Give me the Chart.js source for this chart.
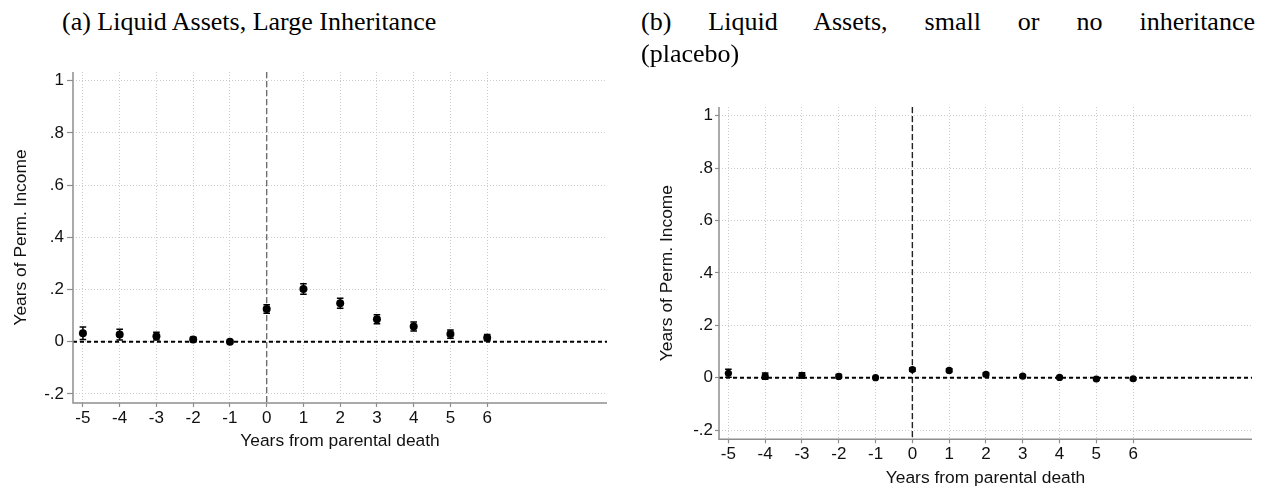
<!DOCTYPE html>
<html><head><meta charset="utf-8">
<script src="https://cdn.jsdelivr.net/npm/chart.js@4"></script>
<style>
html,body{margin:0;padding:0;background:#fff;width:1282px;height:491px;overflow:hidden;}
.t{position:absolute;font-family:"Liberation Serif","Times New Roman",serif;font-size:26px;color:#000;white-space:nowrap;line-height:32px;z-index:2;}
#ta{left:62px;top:6px;}
#tb1{left:641px;top:6px;width:614px;text-align:justify;text-align-last:justify;white-space:normal;}
#tb2{left:641px;top:38px;}
.c{position:absolute;z-index:1;}
</style></head>
<body>
<div class="t" id="ta">(a) Liquid Assets, Large Inheritance</div>
<div class="t" id="tb1">(b) Liquid Assets, small or no inheritance</div>
<div class="t" id="tb2">(placebo)</div>
<canvas class="c" id="c1" width="640" height="441" style="left:0px;top:50px;width:640px;height:441px"></canvas>
<canvas class="c" id="c2" width="641" height="441" style="left:641px;top:50px;width:641px;height:441px"></canvas>
<script>
// ---- data ----
const years = [-5, -4, -3, -2, -1, 0, 1, 2, 3, 4, 5, 6];
const largeCoef = [0.032, 0.027, 0.021, 0.008, 0.000, 0.125, 0.202, 0.147, 0.086, 0.058, 0.029, 0.015];
const largeCI   = [0.024, 0.021, 0.015, 0.009, 0.000, 0.016, 0.020, 0.019, 0.017, 0.017, 0.016, 0.012];
const placeboCoef = [0.017, 0.006, 0.009, 0.005, 0.000, 0.031, 0.028, 0.013, 0.006, 0.001, -0.005, -0.004];
const placeboCI   = [0.015, 0.012, 0.010, 0.007, 0.000, 0.006, 0.006, 0.006, 0.005, 0.004, 0.004, 0.004];
const yTicks = [-0.2, 0, 0.2, 0.4, 0.6, 0.8, 1];
const yTickLabels = ['-.2', '0', '.2', '.4', '.6', '.8', '1'];
const xTitle = 'Years from parental death';
const yTitle = 'Years of Perm. Income';

const SANS = '"Liberation Sans", Arial, Helvetica, sans-serif';

const refPlugin = {
  id: 'refLines',
  beforeDatasetsDraw(chart, args, o) {
    const {ctx, chartArea: a, scales: {x, y}} = chart;
    ctx.save();
    const x0 = x.getPixelForValue(0);
    ctx.setLineDash(o.vDash); ctx.strokeStyle = o.vColor; ctx.lineWidth = o.vWidth;
    ctx.beginPath(); ctx.moveTo(x0, a.top); ctx.lineTo(x0, a.bottom); ctx.stroke();
    const y0 = y.getPixelForValue(0);
    ctx.setLineDash([4, 3]); ctx.strokeStyle = '#000'; ctx.lineWidth = 2;
    ctx.beginPath(); ctx.moveTo(a.left, y0); ctx.lineTo(a.right, y0); ctx.stroke();
    ctx.setLineDash([]); ctx.lineWidth = 1.5; ctx.strokeStyle = '#000';
    o.coef.forEach((c, i) => {
      if (!o.ci[i]) return;
      const px = x.getPixelForValue(o.xs[i]);
      const lo = y.getPixelForValue(c - o.ci[i]);
      const hi = y.getPixelForValue(c + o.ci[i]);
      ctx.beginPath();
      ctx.moveTo(px, lo); ctx.lineTo(px, hi);
      ctx.moveTo(px - o.cap, lo); ctx.lineTo(px + o.cap, lo);
      ctx.moveTo(px - o.cap, hi); ctx.lineTo(px + o.cap, hi);
      ctx.stroke();
    });
    ctx.restore();
  },
  afterDraw(chart) {
    const {ctx, chartArea: a} = chart;
    ctx.save();
    ctx.strokeStyle = '#8e8e8e'; ctx.lineWidth = 1.5; ctx.setLineDash([]);
    ctx.beginPath();
    ctx.moveTo(a.left, a.top); ctx.lineTo(a.left, a.bottom); ctx.lineTo(a.right, a.bottom);
    ctx.stroke();
    ctx.restore();
  }
};

function makeChart(id, coef, ci, g) {
  return new Chart(document.getElementById(id), {
    type: 'scatter',
    data: {
      datasets: [{
        data: years.map((v, i) => ({x: v, y: coef[i]})),
        backgroundColor: '#000', borderColor: '#000', borderWidth: 0,
        pointRadius: g.r, pointHoverRadius: g.r
      }]
    },
    options: {
      responsive: false, animation: false, devicePixelRatio: 1,
      layout: {padding: {left: 0, top: g.top, right: g.right, bottom: g.bottom}},
      plugins: {
        legend: {display: false}, tooltip: {enabled: false},
        refLines: {xs: years, coef: coef, ci: ci, cap: 3.3, vDash: g.vDash, vColor: g.vColor, vWidth: 1.4}
      },
      scales: {
        x: {
          type: 'linear', min: g.xmin, max: g.xmax,
          afterBuildTicks: s => { s.ticks = years.map(v => ({value: v})); },
          afterFit: s => { s.height = 50; },
          border: {display: false, dash: [1, 2]},
          grid: {color: '#cccccc', lineWidth: 1, tickColor: '#8e8e8e', tickLength: 4, tickWidth: 1.2, tickBorderDash: []},
          ticks: {color: '#111', font: {family: SANS, size: 17}, padding: g.xpad, maxRotation: 0, autoSkip: false,
                  callback: (v, i) => String(years[i])},
          title: {display: true, text: xTitle, color: '#111', font: {family: SANS, size: 17.4}, padding: {top: 0, bottom: g.xtpad}}
        },
        y: {
          type: 'linear', min: -0.235, max: 1.033,
          afterBuildTicks: s => { s.ticks = yTicks.map(v => ({value: v})); },
          afterFit: s => { s.width = g.yw; },
          border: {display: false, dash: [1, 2]},
          grid: {color: '#cccccc', lineWidth: 1, tickColor: '#8e8e8e', tickLength: g.ytl, tickWidth: 1.2, tickBorderDash: []},
          ticks: {color: '#111', font: {family: SANS, size: 17}, padding: g.ypad,
                  callback: (v, i) => yTickLabels[i]},
          title: {display: true, text: yTitle, color: '#111', font: {family: SANS, size: 17.4}, padding: {top: g.ytpad, bottom: 0}}
        }
      }
    },
    plugins: [refPlugin]
  });
}

makeChart('c1', largeCoef, largeCI, {
  r: 4, top: 22, right: 33, bottom: 38, xmin: -5.27, xmax: 9.26, yw: 73, ytl: 6, ypad: 3, xpad: 1.5, xtpad: 1.5, ytpad: 10.5,
  vDash: [6, 3], vColor: '#6e6e6e'
});
makeChart('c2', placeboCoef, placeboCI, {
  r: 3.6, top: 57, right: 30, bottom: 1.7, xmin: -5.255, xmax: 9.23, yw: 78, ytl: 4, ypad: 2, xpad: 1, xtpad: 0.8, ytpad: 15.5,
  vDash: [6, 3], vColor: '#222'
});
</script>
</body></html>
